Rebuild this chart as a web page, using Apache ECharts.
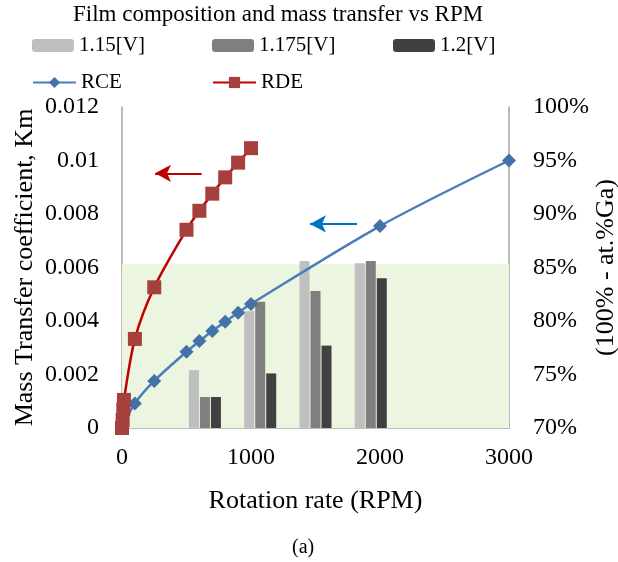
<!DOCTYPE html>
<html>
<head>
<meta charset="utf-8">
<script src="https://cdn.jsdelivr.net/npm/echarts@6/dist/echarts.min.js"></script>
<style>html,body{margin:0;padding:0;background:#fff}#c{width:618px;height:562px}</style>
</head>
<body>
<div id="c"></div>
<script>
// ---- data ----
const rceRpm = [0, 100, 250, 500, 600, 700, 800, 900, 1000, 2000, 3000];
const rceKm  = [0, 0.00092, 0.00176, 0.00285, 0.00325, 0.00363, 0.00397, 0.00431, 0.00464, 0.00755, 0.0100];
const rdeRpm = [0, 5, 10, 15, 100, 250, 500, 600, 700, 800, 900, 1000];
const rdeKm  = [0, 0.0003, 0.0007, 0.00105, 0.00333, 0.00526, 0.00741, 0.00812, 0.00876, 0.00937, 0.00992, 0.01046];
const barCategories = ['0', '500', '1000', '1500', '2000', '2500', '3000'];
const v115  = ['-', 75.4, 80.9, 85.6, 85.4, '-', '-'];
const v1175 = ['-', 72.9, 81.8, 82.8, 85.6, '-', '-'];
const v12   = ['-', 72.9, 75.1, 77.7, 84.0, '-', '-'];
const bandTop = 85.3;        // % level of shaded band
const redArrow  = [[617, 0.00952], [256, 0.00952]];
const blueArrow = [[1822, 0.00763], [1457, 0.00763]];

const F = 'Liberation Serif, Times New Roman, serif';
const axisGray = '#a6a6a6';

const chart = echarts.init(document.getElementById('c'), null, {renderer: 'canvas'});
const legendBase = {
  orient: 'horizontal', itemGap: 0, padding: 0,
  textStyle: {fontFamily: F, fontSize: 21, color: '#000'},
  selectedMode: false
};
chart.setOption({
  animation: false,
  title: {
    text: 'Film composition and mass transfer vs RPM',
    left: 73, top: 3, padding: 0,
    textStyle: {fontFamily: F, fontSize: 23, fontWeight: 'normal', color: '#000'}
  },
  legend: [
    Object.assign({}, legendBase, {data: ['1.15[V]'], left: 32, top: 35, itemWidth: 42, itemHeight: 13}),
    Object.assign({}, legendBase, {data: ['1.175[V]'], left: 212, top: 35, itemWidth: 42, itemHeight: 13}),
    Object.assign({}, legendBase, {data: ['1.2[V]'], left: 393, top: 35, itemWidth: 42, itemHeight: 13}),
    Object.assign({}, legendBase, {data: ['RCE'], left: 32, top: 72, itemWidth: 43, itemHeight: 14}),
    Object.assign({}, legendBase, {data: ['RDE'], left: 212, top: 72, itemWidth: 43, itemHeight: 14})
  ],
  grid: {left: 122, right: 109, top: 107, bottom: 134, containLabel: false, outerBoundsMode: 'none'},
  xAxis: [
    {
      type: 'value', min: 0, max: 3000, interval: 1000,
      name: 'Rotation rate (RPM)', nameLocation: 'middle', nameGap: 60,
      nameTextStyle: {fontFamily: F, fontSize: 26, color: '#000'},
      axisLine: {show: true, lineStyle: {color: axisGray, width: 1.5}},
      axisTick: {show: false},
      splitLine: {show: false},
      axisLabel: {fontFamily: F, fontSize: 24, color: '#000', margin: 18, formatter: v => String(v)}
    },
    {
      type: 'category', data: barCategories, show: false,
      axisLine: {show: false}, axisTick: {show: false}, axisLabel: {show: false}
    }
  ],
  yAxis: [
    {
      type: 'value', min: 0, max: 0.012, interval: 0.002,
      name: 'Mass Transfer coefficient, Km', nameLocation: 'middle', nameGap: 84,
      nameMoveOverlap: false,
      nameTextStyle: {fontFamily: F, fontSize: 26, color: '#000'},
      axisLine: {show: true, lineStyle: {color: axisGray, width: 1.5}},
      axisTick: {show: false}, splitLine: {show: false},
      axisLabel: {fontFamily: F, fontSize: 24, color: '#000', margin: 23, formatter: v => String(+v.toFixed(4))}
    },
    {
      type: 'value', min: 70, max: 100, interval: 5, position: 'right',
      name: '(100% - at.%Ga)', nameLocation: 'middle', nameGap: 84, nameRotate: 90,
      nameMoveOverlap: false,
      nameTextStyle: {fontFamily: F, fontSize: 26, color: '#000'},
      axisLine: {show: true, lineStyle: {color: axisGray, width: 1.5}},
      axisTick: {show: false}, splitLine: {show: false},
      axisLabel: {fontFamily: F, fontSize: 24, color: '#000', margin: 24, formatter: '{value}%'}
    }
  ],
  graphic: [{
    type: 'text', left: 292, top: 538,
    style: {text: '(a)', font: '20px ' + F, fill: '#000'}
  }],
  series: [
    {
      name: '1.15[V]', type: 'bar', xAxisIndex: 1, yAxisIndex: 1, data: v115,
      barWidth: 10, barGap: '10%', itemStyle: {color: '#bfbfbf'}, z: 2,
      markArea: {
        silent: true,
        itemStyle: {color: '#ebf5df'},
        data: [[{yAxis: 70}, {yAxis: bandTop}]]
      }
    },
    {
      name: '1.175[V]', type: 'bar', xAxisIndex: 1, yAxisIndex: 1, data: v1175,
      barWidth: 10, barGap: '10%', itemStyle: {color: '#7f7f7f'}, z: 2
    },
    {
      name: '1.2[V]', type: 'bar', xAxisIndex: 1, yAxisIndex: 1, data: v12,
      barWidth: 10, barGap: '10%', itemStyle: {color: '#404040'}, z: 2
    },
    {
      name: 'RCE', type: 'line', xAxisIndex: 0, yAxisIndex: 0,
      data: rceRpm.map((x, i) => [x, rceKm[i]]),
      smooth: 0.3, symbol: 'diamond', symbolSize: 14,
      lineStyle: {color: '#4a7ebb', width: 2.5},
      itemStyle: {color: '#4571a9'}, z: 4,
      markLine: {
        silent: true, symbol: ['none', 'arrow'], symbolSize: [13, 16],
        label: {show: false},
        lineStyle: {color: '#0070c0', width: 2, type: 'solid'},
        data: [[{coord: blueArrow[0]}, {coord: blueArrow[1]}]]
      }
    },
    {
      name: 'RDE', type: 'line', xAxisIndex: 0, yAxisIndex: 0,
      data: rdeRpm.map((x, i) => [x, rdeKm[i]]),
      smooth: 0.3, symbol: 'rect', symbolSize: 14,
      lineStyle: {color: '#c00000', width: 2.5},
      itemStyle: {color: '#a6403d'}, z: 5,
      markLine: {
        silent: true, symbol: ['none', 'arrow'], symbolSize: [13, 16],
        label: {show: false},
        lineStyle: {color: '#c00000', width: 2, type: 'solid'},
        data: [[{coord: redArrow[0]}, {coord: redArrow[1]}]]
      }
    }
  ]
});
</script>
</body>
</html>
